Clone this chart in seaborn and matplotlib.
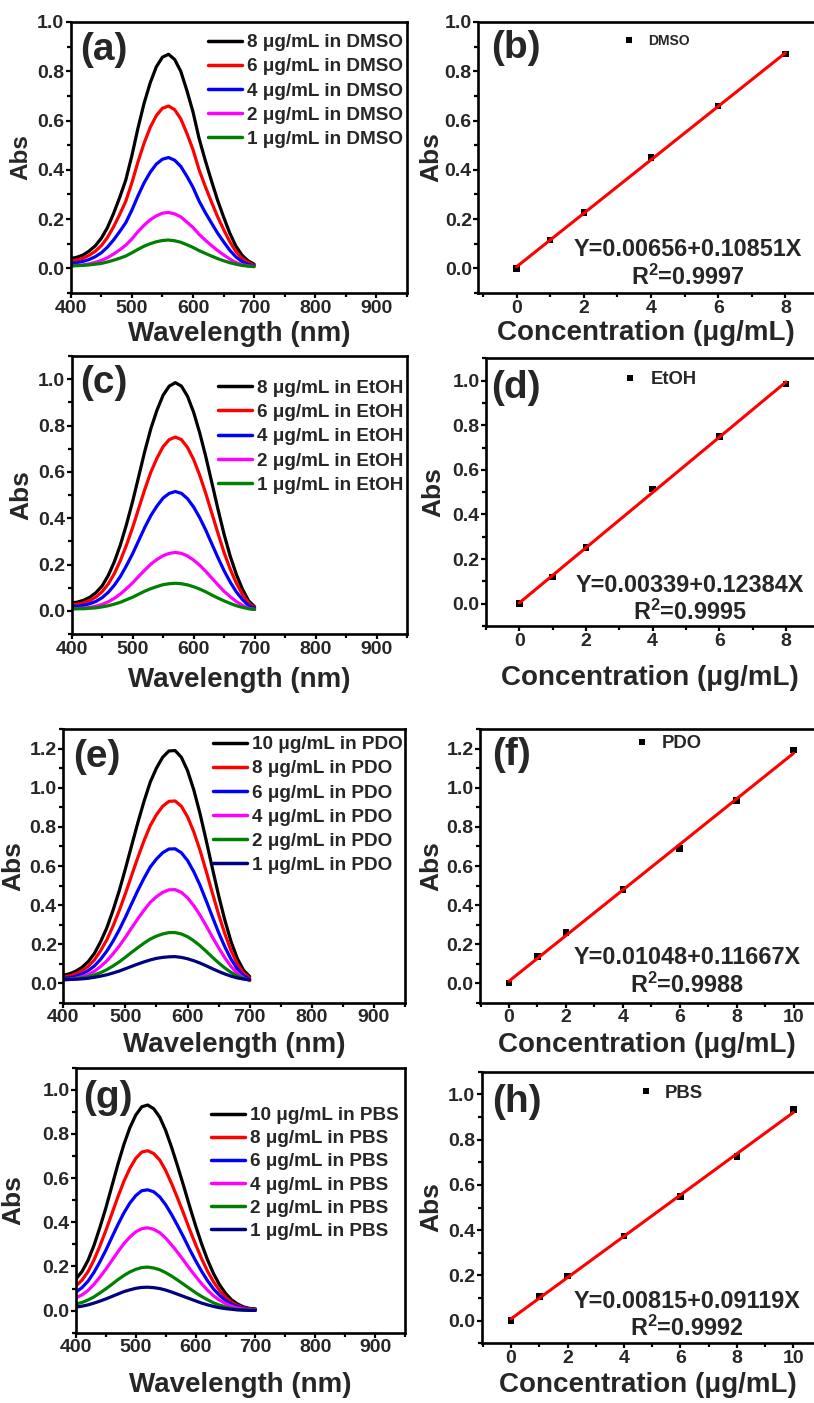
import numpy as np
import pandas as pd
import matplotlib
matplotlib.use("Agg")
import matplotlib.pyplot as plt
from matplotlib.ticker import MultipleLocator
import seaborn as sns

W, H = 814, 1403

sns.set_theme(style="ticks")
plt.rcParams["font.family"] = ["Liberation Sans", "DejaVu Sans"]
plt.rcParams["font.weight"] = "bold"
plt.rcParams["axes.labelweight"] = "bold"
plt.rcParams["mathtext.fontset"] = "custom"
plt.rcParams["mathtext.rm"] = "Liberation Sans:bold"
plt.rcParams["mathtext.bf"] = "Liberation Sans:bold"
plt.rcParams["mathtext.it"] = "Liberation Sans:bold"

# ---------------- absorption spectra (400-700 nm, 10 nm steps) ----------------
wavelength = list(range(400, 701, 10))

dmso_8 = [0.040, 0.045, 0.054, 0.070, 0.091, 0.122, 0.165, 0.222, 0.287, 0.358, 0.457,
          0.569, 0.670, 0.753, 0.818, 0.857, 0.869, 0.848, 0.800, 0.722, 0.635, 0.527,
          0.439, 0.357, 0.278, 0.209, 0.144, 0.091, 0.054, 0.031, 0.017]
dmso_6 = [0.030, 0.034, 0.041, 0.053, 0.069, 0.092, 0.125, 0.168, 0.218, 0.272, 0.347,
          0.432, 0.508, 0.572, 0.620, 0.650, 0.659, 0.644, 0.607, 0.548, 0.482, 0.400,
          0.333, 0.271, 0.211, 0.158, 0.109, 0.069, 0.041, 0.024, 0.013]
dmso_4 = [0.021, 0.023, 0.028, 0.036, 0.047, 0.063, 0.086, 0.115, 0.149, 0.185, 0.236,
          0.294, 0.347, 0.390, 0.423, 0.443, 0.450, 0.439, 0.414, 0.374, 0.329, 0.273,
          0.227, 0.185, 0.144, 0.108, 0.074, 0.047, 0.028, 0.016, 0.010]
dmso_2 = [0.010, 0.012, 0.014, 0.018, 0.024, 0.032, 0.043, 0.058, 0.075, 0.094, 0.119,
          0.149, 0.175, 0.197, 0.213, 0.224, 0.227, 0.221, 0.209, 0.188, 0.166, 0.138,
          0.115, 0.093, 0.073, 0.055, 0.038, 0.024, 0.015, 0.010, 0.008]
dmso_1 = [0.010, 0.011, 0.012, 0.014, 0.017, 0.020, 0.026, 0.033, 0.041, 0.050, 0.063,
          0.077, 0.090, 0.100, 0.108, 0.113, 0.115, 0.112, 0.106, 0.096, 0.085, 0.072,
          0.061, 0.050, 0.040, 0.031, 0.023, 0.017, 0.012, 0.009, 0.007]

etoh_8 = [0.034, 0.038, 0.046, 0.059, 0.079, 0.108, 0.153, 0.212, 0.286, 0.374, 0.473,
          0.581, 0.690, 0.788, 0.867, 0.931, 0.970, 0.985, 0.970, 0.926, 0.857, 0.768,
          0.665, 0.552, 0.438, 0.330, 0.236, 0.158, 0.094, 0.044, 0.018]
etoh_6 = [0.026, 0.029, 0.035, 0.045, 0.060, 0.083, 0.116, 0.161, 0.218, 0.285, 0.360,
          0.443, 0.525, 0.600, 0.660, 0.709, 0.739, 0.750, 0.739, 0.705, 0.653, 0.585,
          0.506, 0.420, 0.334, 0.251, 0.180, 0.120, 0.071, 0.034, 0.014]
etoh_4 = [0.018, 0.020, 0.024, 0.031, 0.041, 0.057, 0.080, 0.111, 0.149, 0.196, 0.247,
          0.304, 0.361, 0.412, 0.453, 0.487, 0.507, 0.515, 0.507, 0.484, 0.448, 0.402,
          0.348, 0.288, 0.229, 0.173, 0.124, 0.082, 0.049, 0.023, 0.010]
etoh_2 = [0.009, 0.010, 0.012, 0.015, 0.020, 0.028, 0.039, 0.054, 0.073, 0.096, 0.121,
          0.149, 0.176, 0.202, 0.222, 0.238, 0.248, 0.252, 0.248, 0.237, 0.219, 0.197,
          0.170, 0.141, 0.112, 0.084, 0.061, 0.040, 0.024, 0.011, 0.006]
etoh_1 = [0.008, 0.009, 0.009, 0.011, 0.013, 0.017, 0.022, 0.029, 0.037, 0.048, 0.059,
          0.072, 0.085, 0.096, 0.105, 0.113, 0.117, 0.119, 0.117, 0.112, 0.104, 0.094,
          0.082, 0.068, 0.055, 0.043, 0.032, 0.022, 0.015, 0.009, 0.006]

pdo_10 = [0.041, 0.048, 0.061, 0.081, 0.110, 0.152, 0.212, 0.283, 0.373, 0.473, 0.586,
          0.705, 0.822, 0.932, 1.030, 1.102, 1.157, 1.189, 1.191, 1.157, 1.088, 0.990,
          0.869, 0.731, 0.588, 0.449, 0.323, 0.213, 0.127, 0.067, 0.034]
pdo_8 = [0.032, 0.037, 0.048, 0.064, 0.086, 0.119, 0.166, 0.222, 0.292, 0.371, 0.459,
         0.552, 0.644, 0.730, 0.807, 0.863, 0.906, 0.931, 0.933, 0.906, 0.852, 0.775,
         0.681, 0.573, 0.461, 0.352, 0.253, 0.167, 0.099, 0.052, 0.026]
pdo_6 = [0.024, 0.028, 0.035, 0.047, 0.064, 0.088, 0.122, 0.164, 0.215, 0.273, 0.338,
         0.407, 0.475, 0.538, 0.595, 0.636, 0.668, 0.687, 0.688, 0.668, 0.628, 0.571,
         0.502, 0.422, 0.340, 0.259, 0.186, 0.123, 0.073, 0.039, 0.019]
pdo_4 = [0.016, 0.019, 0.025, 0.033, 0.044, 0.061, 0.085, 0.114, 0.150, 0.190, 0.235,
         0.283, 0.330, 0.374, 0.414, 0.443, 0.465, 0.478, 0.479, 0.465, 0.437, 0.397,
         0.349, 0.294, 0.236, 0.181, 0.130, 0.085, 0.051, 0.027, 0.013]
pdo_2 = [0.019, 0.020, 0.023, 0.027, 0.033, 0.042, 0.054, 0.069, 0.088, 0.109, 0.133,
         0.158, 0.182, 0.205, 0.226, 0.241, 0.252, 0.259, 0.259, 0.252, 0.238, 0.217,
         0.192, 0.163, 0.133, 0.104, 0.078, 0.055, 0.037, 0.024, 0.017]
pdo_1 = [0.018, 0.019, 0.020, 0.022, 0.025, 0.030, 0.036, 0.043, 0.052, 0.062, 0.074,
         0.086, 0.098, 0.109, 0.119, 0.127, 0.132, 0.135, 0.136, 0.132, 0.125, 0.115,
         0.103, 0.089, 0.074, 0.060, 0.047, 0.036, 0.027, 0.021, 0.017]

pbs_10 = [0.144, 0.177, 0.227, 0.295, 0.377, 0.466, 0.564, 0.662, 0.752, 0.828, 0.886,
          0.923, 0.931, 0.914, 0.876, 0.815, 0.738, 0.653, 0.564, 0.472, 0.384, 0.302,
          0.229, 0.167, 0.117, 0.078, 0.049, 0.030, 0.017, 0.010, 0.008]
pbs_8 = [0.112, 0.138, 0.176, 0.229, 0.293, 0.363, 0.439, 0.515, 0.585, 0.644, 0.690,
         0.718, 0.724, 0.711, 0.682, 0.634, 0.574, 0.508, 0.439, 0.367, 0.299, 0.235,
         0.178, 0.130, 0.091, 0.061, 0.038, 0.023, 0.013, 0.008, 0.006]
pbs_6 = [0.084, 0.104, 0.133, 0.173, 0.221, 0.274, 0.332, 0.389, 0.442, 0.487, 0.521,
         0.543, 0.547, 0.538, 0.515, 0.479, 0.434, 0.384, 0.332, 0.277, 0.226, 0.178,
         0.135, 0.098, 0.069, 0.046, 0.029, 0.018, 0.010, 0.006, 0.004]
pbs_4 = [0.058, 0.071, 0.091, 0.119, 0.152, 0.188, 0.227, 0.266, 0.303, 0.333, 0.357,
         0.371, 0.375, 0.368, 0.353, 0.328, 0.297, 0.263, 0.227, 0.190, 0.155, 0.122,
         0.092, 0.067, 0.047, 0.032, 0.020, 0.012, 0.007, 0.004, 0.003]
pbs_2 = [0.030, 0.037, 0.048, 0.062, 0.080, 0.099, 0.119, 0.140, 0.159, 0.175, 0.187,
         0.195, 0.197, 0.193, 0.185, 0.172, 0.156, 0.138, 0.119, 0.100, 0.081, 0.064,
         0.049, 0.035, 0.025, 0.017, 0.010, 0.006, 0.004, 0.002, 0.002]
pbs_1 = [0.016, 0.020, 0.026, 0.034, 0.043, 0.053, 0.064, 0.075, 0.086, 0.094, 0.101,
         0.105, 0.106, 0.104, 0.100, 0.093, 0.084, 0.074, 0.064, 0.054, 0.044, 0.034,
         0.026, 0.019, 0.013, 0.009, 0.006, 0.003, 0.002, 0.001, 0.001]

# ---------------- calibration data ----------------
conc_8 = [0, 1, 2, 4, 6, 8]
conc_10 = [0, 1, 2, 4, 6, 8, 10]
abs_dmso = [0.0, 0.115, 0.227, 0.450, 0.660, 0.870]
abs_etoh = [0.0, 0.120, 0.252, 0.515, 0.750, 0.985]
abs_pdo = [0.0, 0.136, 0.260, 0.480, 0.690, 0.935, 1.195]
abs_pbs = [0.0, 0.106, 0.197, 0.375, 0.548, 0.725, 0.932]

fit_dmso = (0.00656, 0.10851, "0.9997")
fit_etoh = (0.00339, 0.12384, "0.9995")
fit_pdo = (0.01048, 0.11667, "0.9988")
fit_pbs = (0.00815, 0.09119, "0.9992")

C_BLACK, C_RED, C_BLUE, C_MAG, C_GREEN, C_NAVY = (
    "#000000", "#ff0000", "#0000ff", "#ff00ff", "#008000", "#000080")

LEG_FS = 13.6
LEG_FS_PX = LEG_FS * 100 / 72

fig = plt.figure(figsize=(W / 100, H / 100), dpi=100)


def fx(px):
    return px / W


def fy(py):
    return 1 - py / H


def add_axes_px(left, top, right, bottom):
    return fig.add_axes([left / W, 1 - bottom / H, (right - left) / W, (bottom - top) / H])


def style(ax, xmaj, xmin, ymaj, ymin, right_spine=True):
    for side, s in ax.spines.items():
        s.set_linewidth(1.9)
        s.set_color("black")
    if not right_spine:
        ax.spines["right"].set_visible(False)
    ax.xaxis.set_major_locator(MultipleLocator(xmaj))
    ax.xaxis.set_minor_locator(MultipleLocator(xmin))
    ax.yaxis.set_major_locator(MultipleLocator(ymaj))
    ax.yaxis.set_minor_locator(MultipleLocator(ymin))
    ax.tick_params(which="both", direction="out", width=1.6, color="black",
                   labelsize=14, pad=1.2, top=False, right=False)
    ax.tick_params(which="major", length=3.5)
    ax.tick_params(which="minor", length=3.0)
    ax.set_facecolor("white")


def labels(ax, xlabel, xoff, ylabel, yoff, ysize=19):
    hpx = ax.get_position().height * H
    wpx = ax.get_position().width * W
    ax.set_xlabel(xlabel, fontsize=20, fontweight="bold")
    ax.xaxis.set_label_coords(0.5, -xoff / hpx)
    ax.xaxis.label.set_va("center")
    ax.set_ylabel(ylabel, fontsize=ysize, fontweight="bold")
    ax.yaxis.set_label_coords(-yoff / wpx, 0.5)
    ax.yaxis.label.set_va("center")


def spectra(ax, curves, ylim, ymaj, leg_x, first_row, row_step):
    frames = []
    for name, vals, _ in curves:
        frames.append(pd.DataFrame({"Wavelength": wavelength, "Abs": vals, "sample": name}))
    df = pd.concat(frames, ignore_index=True)
    palette = {name: col for name, _, col in curves}
    sns.lineplot(data=df, x="Wavelength", y="Abs", hue="sample",
                 hue_order=[c[0] for c in curves], palette=palette,
                 linewidth=2.3, errorbar=None, sort=False, ax=ax, legend=True)
    ax.set_xlim(400, 950)
    ax.set_ylim(*ylim)
    style(ax, 100, 50, ymaj, ymaj / 2)
    handles, labs = ax.get_legend_handles_labels()
    text_h = 0.93 * LEG_FS_PX
    spacing = (row_step - text_h) / LEG_FS_PX
    leg = ax.legend(handles, labs, loc="upper left",
                    bbox_to_anchor=(fx(leg_x), fy(first_row - text_h / 2)),
                    bbox_transform=fig.transFigure,
                    frameon=False, fontsize=LEG_FS, borderpad=0, borderaxespad=0,
                    handlelength=1.8, handletextpad=0.28, labelspacing=spacing)
    for ln in leg.get_lines():
        ln.set_linewidth(2.5)
    for t in leg.get_texts():
        t.set_fontweight("bold")


def calibration(ax, conc, absv, fit, name, xlim, ylim, ymaj, leg_xy, leg_fs, eq_xy, r2_xy):
    df = pd.DataFrame({"Concentration": conc, "Abs": absv, "sample": name})
    sns.scatterplot(data=df, x="Concentration", y="Abs", hue="sample",
                    palette={name: "black"}, marker="s", s=22, linewidth=0,
                    ax=ax, zorder=2, legend=True)
    a, b, r2 = fit
    xs = [conc[0], conc[-1]]
    line = pd.DataFrame({"Concentration": xs, "Abs": [a + b * v for v in xs]})
    sns.lineplot(data=line, x="Concentration", y="Abs", color=C_RED, linewidth=2.2,
                 ax=ax, zorder=3, legend=False)
    ax.set_xlim(*xlim)
    ax.set_ylim(*ylim)
    style(ax, 2, 1, ymaj, ymaj / 2, right_spine=False)
    fs_px = leg_fs * 100 / 72
    handles, labs = ax.get_legend_handles_labels()
    leg = ax.legend(handles[:1], labs[:1], loc="center left",
                    bbox_to_anchor=(fx(leg_xy[0] - 0.5 * fs_px), fy(leg_xy[1])),
                    bbox_transform=fig.transFigure, frameon=False, fontsize=leg_fs,
                    borderpad=0, borderaxespad=0, handlelength=1.0,
                    handletextpad=(leg_xy[2] / fs_px - 0.5), markerscale=1.0)
    for t in leg.get_texts():
        t.set_fontweight("bold")
    fig.text(fx(eq_xy[0]), fy(eq_xy[1]), f"Y={a:.5f}+{b:.5f}X", ha="center", va="center",
             fontsize=16.8, fontweight="bold")
    fig.text(fx(r2_xy[0]), fy(r2_xy[1]), f"R$^2$={r2}", ha="center", va="center",
             fontsize=16.8, fontweight="bold")


# ---- (a) DMSO spectra ----
ax_a = add_axes_px(70.7, 22, 407, 293)
spectra(ax_a, [("8 \u03bcg/mL in DMSO", dmso_8, C_BLACK),
               ("6 \u03bcg/mL in DMSO", dmso_6, C_RED),
               ("4 \u03bcg/mL in DMSO", dmso_4, C_BLUE),
               ("2 \u03bcg/mL in DMSO", dmso_2, C_MAG),
               ("1 \u03bcg/mL in DMSO", dmso_1, C_GREEN)],
        (-0.1, 1.0), 0.2, 208, 43, 24.4)
labels(ax_a, "Wavelength (nm)", 41, "Abs", 50, ysize=17.5)

# ---- (b) DMSO calibration ----
ax_b = add_axes_px(478.3, 22, 814, 293)
calibration(ax_b, conc_8, abs_dmso, fit_dmso, "DMSO", (-1.14, 8.85), (-0.1, 1.0), 0.2,
            (629, 41, 18.7), 10, (688, 249), (688, 277))
labels(ax_b, "Concentration (\u03bcg/mL)", 40, "Abs", 47)

# ---- (c) EtOH spectra ----
ax_c = add_axes_px(71.7, 356, 407, 634)
spectra(ax_c, [("8 \u03bcg/mL in EtOH", etoh_8, C_BLACK),
               ("6 \u03bcg/mL in EtOH", etoh_6, C_RED),
               ("4 \u03bcg/mL in EtOH", etoh_4, C_BLUE),
               ("2 \u03bcg/mL in EtOH", etoh_2, C_MAG),
               ("1 \u03bcg/mL in EtOH", etoh_1, C_GREEN)],
        (-0.1, 1.1), 0.2, 218, 388.3, 24.6)
labels(ax_c, "Wavelength (nm)", 46, "Abs", 50)

# ---- (d) EtOH calibration ----
ax_d = add_axes_px(486, 358.3, 814, 626)
calibration(ax_d, conc_8, abs_etoh, fit_etoh, "EtOH", (-1.0, 8.84), (-0.1, 1.1), 0.2,
            (630, 380, 20.7), 13.3, (690, 585), (690, 612))
labels(ax_d, "Concentration (\u03bcg/mL)", 52, "Abs", 53)

# ---- (e) PDO spectra ----
ax_e = add_axes_px(63.3, 729.3, 405, 1002.7)
spectra(ax_e, [("10 \u03bcg/mL in PDO", pdo_10, C_BLACK),
               ("8 \u03bcg/mL in PDO", pdo_8, C_RED),
               ("6 \u03bcg/mL in PDO", pdo_6, C_BLUE),
               ("4 \u03bcg/mL in PDO", pdo_4, C_MAG),
               ("2 \u03bcg/mL in PDO", pdo_2, C_GREEN),
               ("1 \u03bcg/mL in PDO", pdo_1, C_NAVY)],
        (-0.1, 1.3), 0.2, 213, 745, 24.4)
labels(ax_e, "Wavelength (nm)", 42, "Abs", 50)

# ---- (f) PDO calibration ----
ax_f = add_axes_px(480, 729.3, 814, 1002.7)
calibration(ax_f, conc_10, abs_pdo, fit_pdo, "PDO", (-1.02, 10.72), (-0.1, 1.3), 0.2,
            (642, 744, 20), 13.3, (687, 958), (687, 985))
labels(ax_f, "Concentration (\u03bcg/mL)", 42, "Abs", 49)

# ---- (g) PBS spectra ----
ax_g = add_axes_px(76, 1067.7, 405, 1332.7)
spectra(ax_g, [("10 \u03bcg/mL in PBS", pbs_10, C_BLACK),
               ("8 \u03bcg/mL in PBS", pbs_8, C_RED),
               ("6 \u03bcg/mL in PBS", pbs_6, C_BLUE),
               ("4 \u03bcg/mL in PBS", pbs_4, C_MAG),
               ("2 \u03bcg/mL in PBS", pbs_2, C_GREEN),
               ("1 \u03bcg/mL in PBS", pbs_1, C_NAVY)],
        (-0.1, 1.1), 0.2, 211, 1115.7, 23.5)
labels(ax_g, "Wavelength (nm)", 52, "Abs", 63)

# ---- (h) PBS calibration ----
ax_h = add_axes_px(481.7, 1071.7, 814, 1343.3)
calibration(ax_h, conc_10, abs_pbs, fit_pbs, "PBS", (-1.04, 10.73), (-0.1, 1.1), 0.2,
            (646, 1093, 19), 13.3, (687, 1302), (687, 1328))
labels(ax_h, "Concentration (\u03bcg/mL)", 42, "Abs", 50)

# panel letters
for letter, (px, py) in {"(a)": (104, 50), "(b)": (516, 48), "(c)": (104, 383),
                         "(d)": (516, 388), "(e)": (97, 757), "(f)": (512, 755),
                         "(g)": (108, 1098), "(h)": (517, 1102)}.items():
    fig.text(fx(px), fy(py), letter, ha="center", va="center", fontsize=28, fontweight="bold")

fig.savefig("out.png", dpi=100, facecolor="white")
